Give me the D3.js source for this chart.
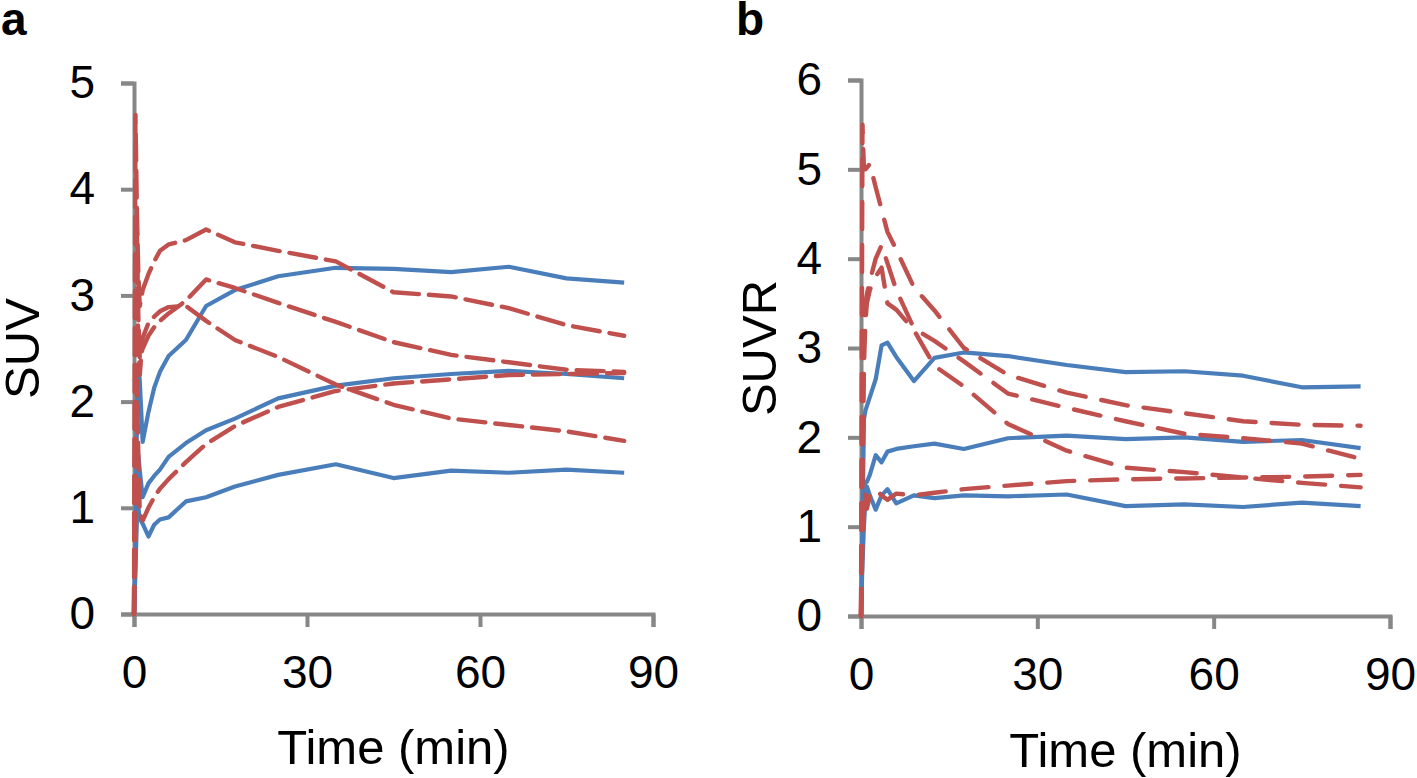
<!DOCTYPE html>
<html>
<head>
<meta charset="utf-8">
<script src="https://cdn.jsdelivr.net/npm/d3@7"></script>
<style>
  body { margin: 0; background: #fff; }
  svg { display: block; font-family: "Liberation Sans", Arial, sans-serif; }
</style>
</head>
<body>
<div id="chart"></div>
<script>
// frame mid times (min), shared by all curves
var times = [0, 0.25, 0.5, 0.75, 1, 1.5, 2.5, 3.5, 4.5, 6, 9, 12.5, 17.5, 25, 35, 45, 55, 65, 75, 85];
var xTicks = [0, 30, 60, 90];

// panel a : SUV
var suvTicks = [0, 1, 2, 3, 4, 5];
var suvBlue1 = [0, 0.6, 1.8, 2.3, 2.2, 1.62, 1.9, 2.13, 2.28, 2.43, 2.58, 2.9, 3.05, 3.18, 3.26, 3.25, 3.22, 3.27, 3.16, 3.12];
var suvBlue2 = [0, 0.5, 1.2, 1.5, 1.35, 1.10, 1.23, 1.30, 1.36, 1.48, 1.61, 1.73, 1.84, 2.03, 2.15, 2.22, 2.26, 2.29, 2.26, 2.22];
var suvBlue3 = [0, 0.4, 0.9, 1.0, 0.9, 0.85, 0.73, 0.84, 0.89, 0.91, 1.06, 1.10, 1.20, 1.31, 1.41, 1.28, 1.35, 1.33, 1.36, 1.33];
var suvRed1 = [0, 4.7, 3.8, 3.2, 2.9, 3.05, 3.2, 3.32, 3.42, 3.48, 3.52, 3.62, 3.5, 3.42, 3.32, 3.03, 2.99, 2.88, 2.72, 2.62];
var suvRed2 = [0, 2.5, 3.6, 2.8, 2.4, 2.5, 2.62, 2.7, 2.76, 2.83, 2.95, 3.15, 3.07, 2.93, 2.75, 2.56, 2.44, 2.37, 2.30, 2.28];
var suvRed3 = [0, 1.8, 3.1, 2.6, 2.25, 2.6, 2.74, 2.80, 2.85, 2.89, 2.90, 2.76, 2.58, 2.42, 2.16, 1.97, 1.84, 1.78, 1.72, 1.63];
var suvRed4 = [0, 1.2, 2.2, 1.5, 0.95, 0.88, 1.0, 1.1, 1.18, 1.27, 1.43, 1.6, 1.77, 1.95, 2.1, 2.17, 2.21, 2.25, 2.26, 2.27];

// panel b : SUVR
var suvrTicks = [0, 1, 2, 3, 4, 5, 6];
var suvrBlue1 = [0, 1.0, 2.2, 2.3, 2.35, 2.45, 2.65, 3.03, 3.06, 2.9, 2.63, 2.89, 2.95, 2.91, 2.81, 2.73, 2.74, 2.69, 2.56, 2.57];
var suvrBlue2 = [0, 0.8, 1.4, 1.5, 1.5, 1.58, 1.8, 1.72, 1.84, 1.87, 1.9, 1.93, 1.87, 1.99, 2.02, 1.98, 2.0, 1.95, 1.97, 1.88];
var suvrBlue3 = [0, 0.6, 1.0, 1.3, 1.45, 1.35, 1.19, 1.35, 1.42, 1.26, 1.35, 1.32, 1.35, 1.34, 1.36, 1.23, 1.25, 1.22, 1.27, 1.23];
var suvrRed1 = [0, 5.5, 5.0, 5.0, 5.02, 5.06, 4.8, 4.55, 4.3, 4.1, 3.68, 3.42, 3.0, 2.70, 2.50, 2.36, 2.27, 2.18, 2.14, 2.13];
var suvrRed2 = [0, 2.0, 3.2, 3.5, 3.6, 3.75, 4.0, 4.15, 3.95, 3.65, 3.22, 3.08, 2.85, 2.49, 2.33, 2.18, 2.04, 1.99, 1.93, 1.76];
var suvrRed3 = [0, 1.5, 2.8, 3.3, 3.5, 3.65, 3.8, 3.9, 3.5, 3.43, 3.2, 2.80, 2.57, 2.15, 1.85, 1.66, 1.61, 1.55, 1.49, 1.44];
var suvrRed4 = [0, 0.8, 1.3, 1.4, 1.2, 1.35, 1.42, 1.35, 1.3, 1.37, 1.35, 1.38, 1.42, 1.46, 1.51, 1.53, 1.54, 1.55, 1.56, 1.58];

var blue = "#4a7ebb", red = "#c0504d", grey = "#878787";

var svg = d3.select("#chart").append("svg")
    .attr("width", 1417)
    .attr("height", 778);

function Panel(opt){

    var x = d3.scaleLinear().domain([0, 90]).range([opt.left, opt.right]);
    var y = d3.scaleLinear().domain([0, opt.yMax]).range([opt.bottom, opt.top]);

    var g = svg.append("g");

    var yAxis = g.append("g")
        .attr("transform", "translate(" + opt.left + ",0)")
        .call(d3.axisLeft(y).tickValues(opt.yTicks).tickSize(13).tickPadding(26).tickFormat(d3.format("d")));
    var xAxis = g.append("g")
        .attr("transform", "translate(0," + opt.bottom + ")")
        .call(d3.axisBottom(x).tickValues(xTicks).tickSize(13).tickPadding(28).tickFormat(d3.format("d")));

    [yAxis, xAxis].forEach(function(a){
        a.select(".domain").attr("stroke", grey).attr("stroke-width", 4);
        a.selectAll(".tick line").attr("stroke", grey).attr("stroke-width", 4);
        a.selectAll(".tick text")
            .attr("fill", "#000")
            .style("font-size", "46px")
            .style("font-family", "'Liberation Sans', Arial, sans-serif");
    });

    var line = d3.line()
        .x(function(d, i){ return x(times[i]); })
        .y(function(d){ return y(d); });

    opt.blue.forEach(function(s){
        g.append("path")
            .attr("d", line(s))
            .attr("fill", "none")
            .attr("stroke", blue)
            .attr("stroke-width", 4.2)
            .attr("stroke-linejoin", "round");
    });
    opt.red.forEach(function(s){
        g.append("path")
            .attr("d", line(s))
            .attr("fill", "none")
            .attr("stroke", red)
            .attr("stroke-width", 4.4)
            .attr("stroke-linecap", "round")
            .attr("stroke-linejoin", "round")
            .attr("stroke-dasharray", opt.dash);
    });

    g.append("text")
        .attr("transform", "translate(" + opt.titleX + "," + ((opt.top + opt.bottom) / 2) + ") rotate(-90)")
        .attr("text-anchor", "middle")
        .style("font-size", "49px")
        .text(opt.yTitle);

    g.append("text")
        .attr("x", (opt.left + opt.right) / 2)
        .attr("y", opt.xTitleY)
        .attr("text-anchor", "middle")
        .style("font-size", "49px")
        .text("Time (min)");

    g.append("text")
        .attr("x", opt.labelX)
        .attr("y", 35)
        .style("font-size", "46px")
        .style("font-weight", "bold")
        .text(opt.label);
}

Panel({
    label: "a", labelX: 1,
    yTitle: "SUV", titleX: 39, xTitleY: 764,
    left: 134, right: 653, top: 83, bottom: 614,
    yMax: 5, yTicks: suvTicks,
    blue: [suvBlue1, suvBlue2, suvBlue3],
    red: [suvRed1, suvRed2, suvRed3, suvRed4],
    dash: "27,10"
});

Panel({
    label: "b", labelX: 736,
    yTitle: "SUVR", titleX: 776, xTitleY: 767,
    left: 861, right: 1390, top: 80, bottom: 616,
    yMax: 6, yTicks: suvrTicks,
    blue: [suvrBlue1, suvrBlue2, suvrBlue3],
    red: [suvrRed1, suvrRed2, suvrRed3, suvrRed4],
    dash: "27,16"
});
</script>
</body>
</html>
